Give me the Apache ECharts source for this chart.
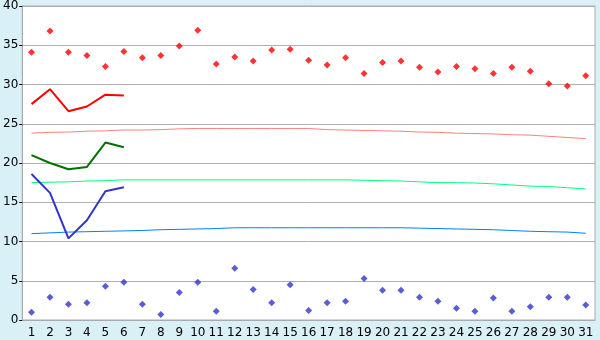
<!DOCTYPE html>
<html>
<head>
<meta charset="utf-8">
<script src="https://cdn.jsdelivr.net/npm/echarts@6/dist/echarts.min.js"></script>
<style>
  html, body { margin: 0; padding: 0; background: #daf0f7; }
  #chart { width: 600px; height: 340px; }
</style>
</head>
<body>
<div id="chart"></div>
<script>
let days = [];
for (let d = 1; d <= 31; d++) days.push(String(d));

// 日最高 / 日最低 (点)
let maxPoints = [34.1, 36.8, 34.1, 33.7, 32.3, 34.2, 33.4, 33.7, 34.9, 36.9,
                 32.6, 33.5, 33.0, 34.4, 34.5, 33.1, 32.5, 33.4, 31.4, 32.8,
                 33.0, 32.2, 31.6, 32.3, 32.0, 31.4, 32.2, 31.7, 30.1, 29.8, 31.1];
let minPoints = [1.0, 2.9, 2.0, 2.2, 4.3, 4.8, 2.0, 0.7, 3.5, 4.8,
                 1.1, 6.6, 3.9, 2.2, 4.5, 1.2, 2.2, 2.4, 5.3, 3.8,
                 3.8, 2.9, 2.4, 1.5, 1.1, 2.8, 1.1, 1.7, 2.9, 2.9, 1.9];

// 今月の観測 (1-6日)
let obsMax  = [27.5, 29.4, 26.6, 27.2, 28.7, 28.6];
let obsMean = [21.0, 20.0, 19.2, 19.5, 22.6, 22.0];
let obsMin  = [18.6, 16.2, 10.4, 12.7, 16.4, 16.9];

// 平年値
let normMax  = [23.8, 23.9, 23.95, 24.05, 24.1, 24.2, 24.2, 24.25, 24.35, 24.4,
                24.4, 24.4, 24.4, 24.4, 24.4, 24.4, 24.25, 24.2, 24.15, 24.1,
                24.05, 23.95, 23.9, 23.8, 23.75, 23.7, 23.6, 23.55, 23.4, 23.25, 23.1];
let normMean = [17.5, 17.55, 17.6, 17.7, 17.75, 17.85, 17.85, 17.85, 17.85, 17.85,
                17.85, 17.85, 17.85, 17.85, 17.85, 17.85, 17.85, 17.85, 17.8, 17.75,
                17.7, 17.6, 17.5, 17.5, 17.45, 17.35, 17.2, 17.05, 17.0, 16.85, 16.7];
let normMin  = [11.0, 11.1, 11.2, 11.25, 11.3, 11.35, 11.4, 11.5, 11.55, 11.6,
                11.65, 11.75, 11.75, 11.75, 11.75, 11.75, 11.75, 11.75, 11.75, 11.75,
                11.75, 11.7, 11.65, 11.6, 11.55, 11.5, 11.4, 11.3, 11.25, 11.2, 11.05];

const labelFont = { color: '#000', fontSize: 12, fontFamily: 'DejaVu Sans' };

function line(data, color, width) {
    return { type: 'line', data: data, symbol: 'none', silent: true,
             lineStyle: { color: color, width: width }, z: 3 };
}
function dots(data, color) {
    return { type: 'scatter', data: data, symbol: 'diamond', symbolSize: 7,
             itemStyle: { color: color }, z: 4 };
}

let options = {
    backgroundColor: '#daf0f7',
    animation: false,
    grid: { left: 20, right: 5, top: 5, bottom: 20, show: true,
            backgroundColor: '#ffffff', borderColor: '#aaaaaa', borderWidth: 1 },
    xAxis: {
        type: 'category',
        data: days,
        boundaryGap: true,
        axisLine: { lineStyle: { color: '#aaaaaa', width: 1 } },
        axisTick: { alignWithLabel: true, length: 6, lineStyle: { color: '#000' } },
        axisLabel: Object.assign({ margin: 7, interval: 0 }, labelFont),
        splitLine: { show: false }
    },
    yAxis: {
        type: 'value',
        min: 0, max: 40, interval: 5,
        axisLine: { show: true, lineStyle: { color: '#aaaaaa', width: 1 } },
        axisTick: { show: true, length: 3, lineStyle: { color: '#000' } },
        axisLabel: Object.assign({ margin: 4 }, labelFont),
        splitLine: { lineStyle: { color: '#b0b0b0', width: 1 } }
    },
    series: [
        line(normMax, '#ff8080', 1),
        line(normMean, '#00ff80', 1),
        line(normMin, '#0080ff', 1),
        line(obsMax, '#ff0000', 2),
        line(obsMean, '#007000', 2),
        line(obsMin, '#3333cc', 2),
        dots(maxPoints, '#ff0000'),
        dots(minPoints, '#3333cc')
    ]
};

let chart = echarts.init(document.getElementById('chart'));
chart.setOption(options);
</script>
</body>
</html>
